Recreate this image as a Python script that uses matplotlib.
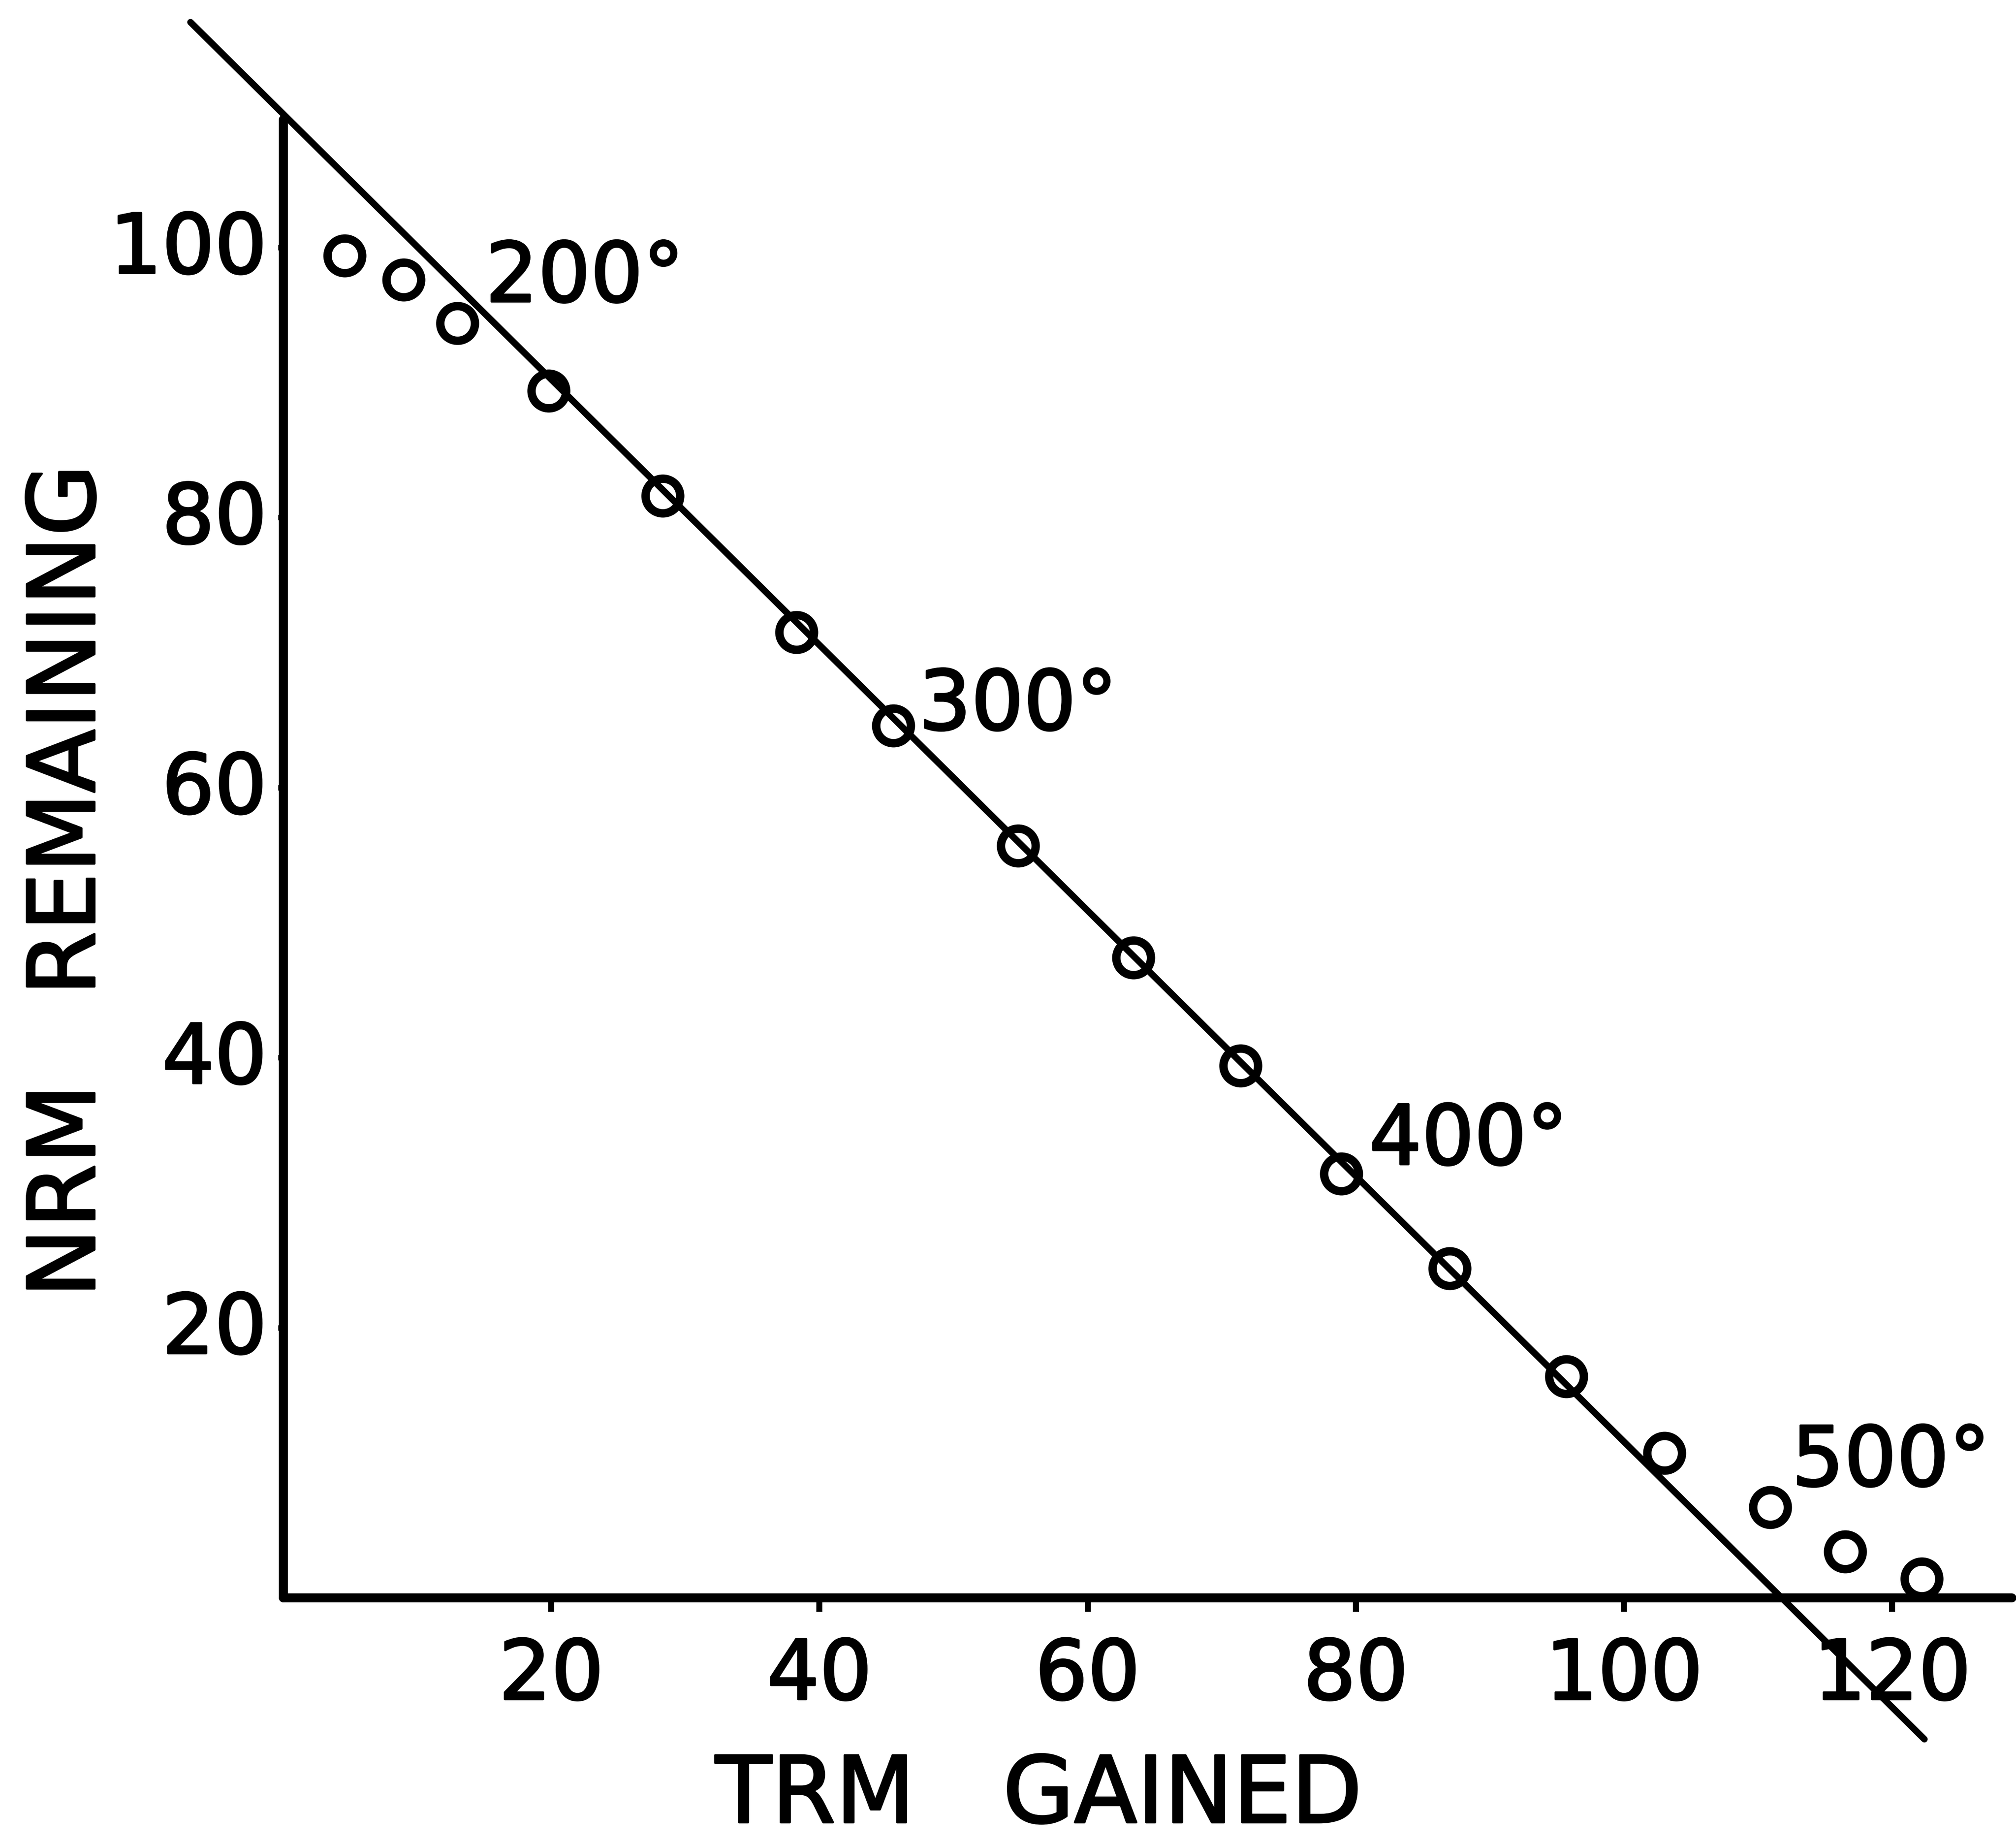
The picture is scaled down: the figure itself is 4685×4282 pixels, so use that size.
import matplotlib
matplotlib.use("Agg")
import matplotlib.pyplot as plt
import matplotlib.patheffects as pe
import matplotlib.transforms as mtransforms
import numpy as np

# Thellier-type NRM/TRM diagram data
trm_gained = [4.6, 9.0, 13.0, 19.8, 28.3, 38.3, 45.5, 54.8, 63.4, 71.4,
              78.9, 87.0, 95.7, 103.0, 110.9, 116.5, 122.2]
nrm_remaining = [99.4, 97.6, 94.4, 89.4, 81.6, 71.5, 64.6, 55.7, 47.4, 39.4,
                 31.4, 24.4, 16.4, 10.7, 6.7, 3.4, 1.4]

# straight-line fit through the linear part
fit_intercept = 109.9
fit_slope = -0.9835
fit_x_range = [-6.9, 122.4]

# temperature step annotations: (label, x, baseline y)
temp_labels = ["200°", "300°", "400°", "500°"]
temp_x = [15.1, 47.4, 81.0, 112.5]
temp_y = [96.0, 64.3, 32.1, 8.3]

x_ticks = [20, 40, 60, 80, 100, 120]
y_ticks = [20, 40, 60, 80, 100]

plt.rcParams["font.family"] = ["DejaVu Sans"]
heavy = [pe.withStroke(linewidth=3.5, foreground="black")]

W, H = 4685, 4282
fig = plt.figure(figsize=(W / 100, H / 100), dpi=100)
fig.patch.set_facecolor("white")
ax = fig.add_axes([0.1404, 0.1331, 0.8574, 0.8022])
ax.set_xlim(0, 128.9)
ax.set_ylim(0, 109.5)

for side in ("top", "right"):
    ax.spines[side].set_visible(False)
for side in ("left", "bottom"):
    ax.spines[side].set_linewidth(15)
    ax.spines[side].set_capstyle("round")
    ax.spines[side].set_color("black")

ax.set_xticks(x_ticks)
ax.set_yticks(y_ticks)
ax.set_xticklabels([str(v) for v in x_ticks])
ax.set_yticklabels([str(v) for v in y_ticks])
ax.tick_params(axis="x", direction="out", length=24, width=10, pad=40,
               labelsize=138, colors="black")
ax.tick_params(axis="y", direction="out", length=9, width=9, pad=18,
               labelsize=138, colors="black")

# nudge the y tick labels slightly upward
lift = mtransforms.ScaledTranslation(0, 0.14, fig.dpi_scale_trans)
for lbl in ax.get_yticklabels():
    lbl.set_transform(lbl.get_transform() + lift)
    lbl.set_path_effects(heavy)
for lbl in ax.get_xticklabels():
    lbl.set_path_effects(heavy)

# fitted line, extending beyond the axes
fx = np.array(fit_x_range)
ax.plot(fx, fit_intercept + fit_slope * fx, color="black", lw=11,
        solid_capstyle="round", clip_on=False, zorder=3)

# measurement points
ax.plot(trm_gained, nrm_remaining, linestyle="none", marker="o",
        markersize=58, markerfacecolor="none", markeredgecolor="black",
        markeredgewidth=14, clip_on=False, zorder=4)

for lab, tx, ty in zip(temp_labels, temp_x, temp_y):
    ax.text(tx, ty, lab, fontsize=138, ha="left", va="baseline",
            color="black", clip_on=False, path_effects=heavy)

fig.text(160 / W, 1 - 2047 / H, "NRM   REMAINING", rotation=90,
         ha="center", va="center", fontsize=155, color="black",
         path_effects=heavy)
fig.text(2414 / W, 1 - 4175 / H, "TRM   GAINED", ha="center", va="center",
         fontsize=154, color="black", path_effects=heavy)

fig.savefig("out.png", dpi=100, facecolor="white")
